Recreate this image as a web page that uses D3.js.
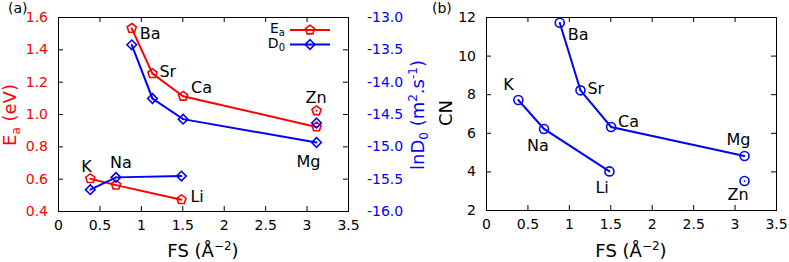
<!DOCTYPE html>
<html>
<head>
<meta charset="utf-8">
<script src="https://cdn.jsdelivr.net/npm/d3@7"></script>
<style>
  body { margin: 0; background: #fff; }
  svg { display: block; font-family: "DejaVu Sans", sans-serif; }
</style>
</head>
<body>
<div id="chart"></div>
<script>
// data
var elements = ["K", "Na", "Li", "Ba", "Sr", "Ca", "Mg", "Zn"];
var fs   = [0.39, 0.70, 1.49, 0.89, 1.14, 1.51, 3.12, 3.12];
var ea   = [0.60, 0.56, 0.47, 1.53, 1.25, 1.11, 0.92, 1.02];
var lnD0 = [-15.67, -15.48, -15.46, -13.43, -14.26, -14.58, -14.94, -14.64];
var cn   = [7.7, 6.2, 4.0, 11.7, 8.2, 6.3, 4.8, 3.5];
// which elements are joined by a line (Zn stands alone)
var chains = [["Ba", "Sr", "Ca", "Mg"], ["K", "Na", "Li"]];

var xTicks = [0, 0.5, 1, 1.5, 2, 2.5, 3, 3.5];
var eaTicks = [0.4, 0.6, 0.8, 1.0, 1.2, 1.4, 1.6];
var d0Ticks = [-16, -15.5, -15, -14.5, -14, -13.5, -13];
var cnTicks = [2, 4, 6, 8, 10, 12];

// label placement, pixels relative to the marker
var labelOffA = {Ba: [8, 11], Sr: [7, 3], Ca: [8, -3], Zn: [-11, -8], Mg: [-20, 40],
                 K: [-9, -7], Na: [-6, -17], Li: [9, 2]};
var labelOffB = {Ba: [8, 17], Sr: [7, 4], Ca: [7, 0], Zn: [-17, 19], Mg: [-18, -11],
                 K: [-15, -10], Na: [-17, 22], Li: [-14, 22]};

var red = "#ff0000", blue = "#0000ff";
var W = 789, H = 262;

var svg = d3.select("#chart").append("svg")
    .attr("width", W)
    .attr("height", H);

var pts = elements.map(function (e, i) {
    return {name: e, fs: fs[i], ea: ea[i], d0: lnD0[i], cn: cn[i]};
});
function byName(n) { return pts.find(function (p) { return p.name === n; }); }

var fmtNum = function (d) { return String(d); };
var fmt1 = function (d) { return d.toFixed(1); };

function pentagon(r) {
    var p = [];
    for (var k = 0; k < 5; k++) {
        var a = -Math.PI / 2 + k * 2 * Math.PI / 5;
        p.push([r * Math.cos(a), r * Math.sin(a)]);
    }
    return "M" + p.join("L") + "Z";
}
function diamond(r) {
    return "M0," + (-r) + "L" + r + ",0L0," + r + "L" + (-r) + ",0Z";
}

function addMarker(g, shape, x, y, color) {
    var m = g.append("g").attr("transform", "translate(" + x + "," + y + ")");
    if (shape === "circle") {
        m.append("circle").attr("r", 4.5);
    } else {
        m.append("path").attr("d", shape === "pent" ? pentagon(4.8) : diamond(4.8));
    }
    m.selectAll("circle,path")
        .attr("fill", "none")
        .attr("stroke", color)
        .attr("stroke-width", 1.6);
    m.append("circle").attr("r", 0.9).attr("fill", color);
}

function frame(g, w, h) {
    g.append("rect")
        .attr("x", 0.5).attr("y", 0.5)
        .attr("width", w).attr("height", h)
        .attr("fill", "none")
        .attr("stroke", "#000")
        .attr("stroke-width", 1);
}

function styleAxis(a, color) {
    a.select(".domain").remove();
    a.selectAll(".tick line").attr("stroke", "#000");
    a.selectAll("text")
        .attr("fill", color)
        .style("font-size", "14px")
        .style("font-family", "DejaVu Sans, sans-serif");
}

function xAxes(g, x, h) {
    g.append("g")
        .attr("transform", "translate(0," + h + ")")
        .call(d3.axisBottom(x).tickValues(xTicks).tickFormat(fmtNum)
            .tickSizeInner(-5).tickSizeOuter(0).tickPadding(9))
        .call(styleAxis, "#000");
    g.append("g")
        .call(d3.axisTop(x).tickValues(xTicks).tickFormat("")
            .tickSizeInner(-5).tickSizeOuter(0))
        .call(styleAxis, "#000");
}

function drawSeries(g, x, y, key, shape, color) {
    var line = d3.line()
        .x(function (d) { return x(d.fs); })
        .y(function (d) { return y(d[key]); });
    chains.forEach(function (c) {
        g.append("path")
            .datum(c.map(byName))
            .attr("d", line)
            .attr("fill", "none")
            .attr("stroke", color)
            .attr("stroke-width", 2);
    });
    pts.forEach(function (p) {
        addMarker(g, shape, x(p.fs), y(p[key]), color);
    });
}

function pointLabels(g, x, y, key, offs) {
    g.selectAll(".plabel")
        .data(pts)
        .enter().append("text")
        .attr("class", "plabel")
        .attr("x", function (d) { return x(d.fs) + offs[d.name][0]; })
        .attr("y", function (d) { return y(d[key]) + offs[d.name][1]; })
        .style("font-size", "16px")
        .attr("fill", "#000")
        .text(function (d) { return d.name; });
}

function xTitle(cx) {
    var t = svg.append("text")
        .attr("x", cx).attr("y", 257)
        .attr("text-anchor", "middle")
        .style("font-size", "18px");
    t.append("tspan").text("FS (\u00c5");
    t.append("tspan").attr("dy", -7).style("font-size", "12px").text("\u22122");
    t.append("tspan").attr("dy", 7).text(")");
}

// ---------- panel (a)
var a = {left: 58, top: 17, w: 290, h: 194};
var ga = svg.append("g").attr("transform", "translate(" + a.left + "," + a.top + ")");

var xa = d3.scaleLinear().domain([0, 3.5]).range([0, a.w]);
var yEa = d3.scaleLinear().domain([0.4, 1.6]).range([a.h, 0]);
var yD0 = d3.scaleLinear().domain([-16, -13]).range([a.h, 0]);

xAxes(ga, xa, a.h);
ga.append("g")
    .call(d3.axisLeft(yEa).tickValues(eaTicks).tickFormat(fmt1)
        .tickSizeInner(-5).tickSizeOuter(0).tickPadding(10))
    .call(styleAxis, red);
ga.append("g")
    .attr("transform", "translate(" + a.w + ",0)")
    .call(d3.axisRight(yD0).tickValues(d0Ticks).tickFormat(fmt1)
        .tickSizeInner(-5).tickSizeOuter(0).tickPadding(19))
    .call(styleAxis, blue);
frame(ga, a.w, a.h);

drawSeries(ga, xa, yEa, "ea", "pent", red);
drawSeries(ga, xa, yD0, "d0", "diam", blue);
pointLabels(ga, xa, yEa, "ea", labelOffA);

// legend
var legend = [{main: "E", sub: "a", color: red, shape: "pent", y: 30},
              {main: "D", sub: "0", color: blue, shape: "diam", y: 44.5}];
legend.forEach(function (l) {
    var t = svg.append("text")
        .attr("x", 285).attr("y", l.y + 3)
        .attr("text-anchor", "end")
        .style("font-size", "14px");
    t.append("tspan").text(l.main);
    t.append("tspan").attr("dy", 3).style("font-size", "10px").text(l.sub);
    svg.append("line")
        .attr("x1", 290).attr("x2", 330)
        .attr("y1", l.y).attr("y2", l.y)
        .attr("stroke", l.color).attr("stroke-width", 2);
    addMarker(svg, l.shape, 310, l.y, l.color);
});

// axis titles
var ty = svg.append("text")
    .attr("transform", "translate(16,115) rotate(-90)")
    .attr("text-anchor", "middle")
    .attr("fill", red)
    .style("font-size", "18px");
ty.append("tspan").text("E");
ty.append("tspan").attr("dy", 4).style("font-size", "12px").text("a");
ty.append("tspan").attr("dy", -4).text(" (eV)");

var ty2 = svg.append("text")
    .attr("transform", "translate(424,115) rotate(-90)")
    .attr("text-anchor", "middle")
    .attr("fill", blue)
    .style("font-size", "18px");
ty2.append("tspan").text("lnD");
ty2.append("tspan").attr("dy", 4).style("font-size", "12px").text("0");
ty2.append("tspan").attr("dy", -4).text(" (m");
ty2.append("tspan").attr("dy", -7).style("font-size", "12px").text("2");
ty2.append("tspan").attr("dy", 7).text(".s");
ty2.append("tspan").attr("dy", -7).style("font-size", "12px").text("-1");
ty2.append("tspan").attr("dy", 7).text(")");

xTitle(a.left + a.w / 2);
svg.append("text").attr("x", 8).attr("y", 13).style("font-size", "14px").text("(a)");

// ---------- panel (b)
var b = {left: 486, top: 17, w: 290, h: 193};
var gb = svg.append("g").attr("transform", "translate(" + b.left + "," + b.top + ")");

var xb = d3.scaleLinear().domain([0, 3.5]).range([0, b.w]);
var yCn = d3.scaleLinear().domain([2, 12]).range([b.h, 0]);

xAxes(gb, xb, b.h);
gb.append("g")
    .call(d3.axisLeft(yCn).tickValues(cnTicks).tickFormat(fmtNum)
        .tickSizeInner(-5).tickSizeOuter(0).tickPadding(10))
    .call(styleAxis, "#000");
gb.append("g")
    .attr("transform", "translate(" + b.w + ",0)")
    .call(d3.axisRight(yCn).tickValues(cnTicks).tickFormat("")
        .tickSizeInner(-5).tickSizeOuter(0))
    .call(styleAxis, "#000");
frame(gb, b.w, b.h);

drawSeries(gb, xb, yCn, "cn", "circle", blue);
pointLabels(gb, xb, yCn, "cn", labelOffB);

svg.append("text")
    .attr("transform", "translate(452,113) rotate(-90)")
    .attr("text-anchor", "middle")
    .style("font-size", "18px")
    .text("CN");

xTitle(b.left + b.w / 2);
svg.append("text").attr("x", 432).attr("y", 13).style("font-size", "14px").text("(b)");
</script>
</body>
</html>
